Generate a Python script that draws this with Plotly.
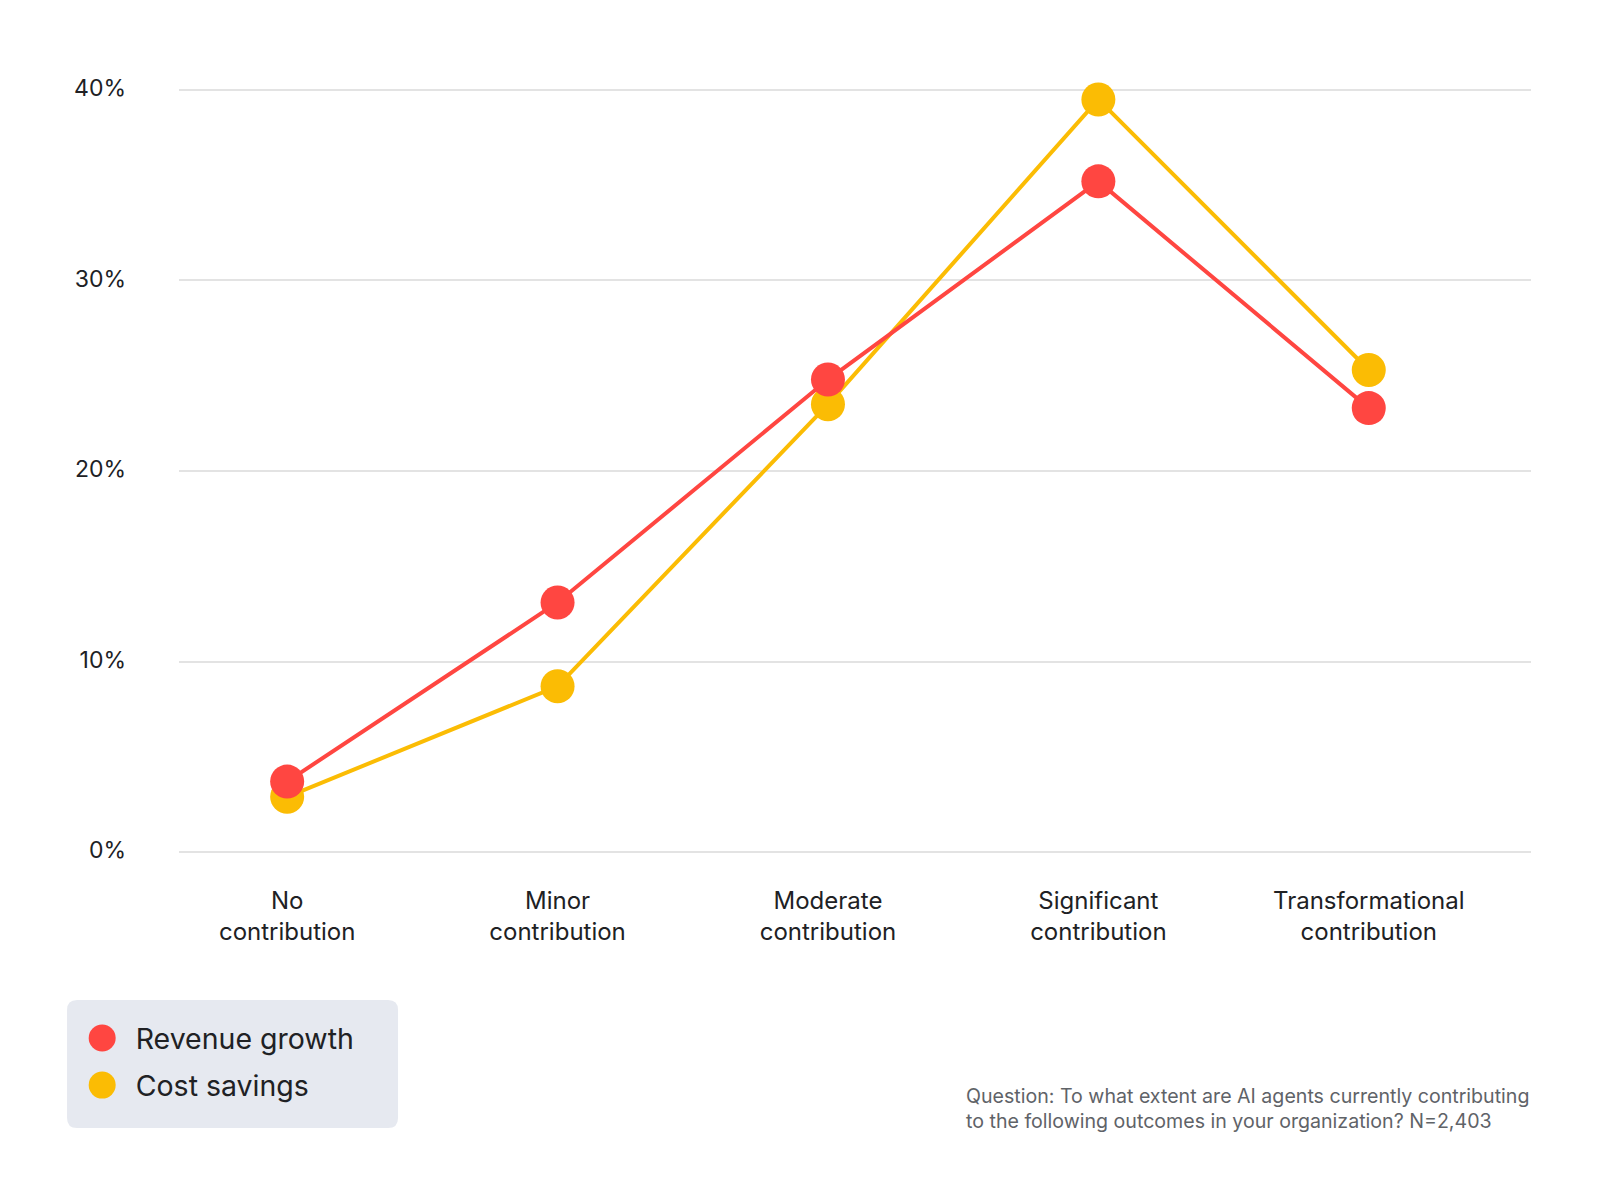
import plotly.graph_objects as go

categories = ["No<br>contribution", "Minor<br>contribution", "Moderate<br>contribution",
              "Significant<br>contribution", "Transformational<br>contribution"]
revenue_growth = [3.7, 13.1, 24.8, 35.2, 23.3]
cost_savings = [2.9, 8.7, 23.5, 39.5, 25.3]
y_ticks = [0, 10, 20, 30, 40]
y_tick_labels = ["0%", "10%", "20%", "30%", "40%"]
series_names = ["Revenue growth", "Cost savings"]
footnote = ("Question: To what extent are AI agents currently contributing<br>"
            "to the following outcomes in your organization? N=2,403")

RED = "#FF4641"
YELLOW = "#FBBC04"
FONT = "Inter, Open Sans, sans-serif"
TEXT = "#202124"

fig = go.Figure()

# data traces (yellow below red)
fig.add_trace(go.Scatter(x=categories, y=cost_savings, mode="lines+markers",
                         name=series_names[1], showlegend=False, cliponaxis=False,
                         line=dict(color=YELLOW, width=4),
                         marker=dict(color=YELLOW, size=34)))
fig.add_trace(go.Scatter(x=categories, y=revenue_growth, mode="lines+markers",
                         name=series_names[0], showlegend=False, cliponaxis=False,
                         line=dict(color=RED, width=4),
                         marker=dict(color=RED, size=34)))
# legend entries (markers only)
fig.add_trace(go.Scatter(x=[None], y=[None], mode="markers", name=series_names[0],
                         legendgroup="a", legendrank=1, marker=dict(color=RED, size=16)))
fig.add_trace(go.Scatter(x=[None], y=[None], mode="markers", name=series_names[1],
                         legendgroup="b", legendrank=2, marker=dict(color=YELLOW, size=16)))

fig.update_layout(
    width=1600, height=1200, autosize=False,
    margin=dict(l=179, r=69, t=88, b=346),
    paper_bgcolor="white", plot_bgcolor="white",
    font=dict(family=FONT, color=TEXT),
    xaxis=dict(type="category", range=[-0.40, 4.60], showgrid=False, zeroline=False,
               showline=False, ticks="outside", ticklen=25, tickcolor="rgba(0,0,0,0)",
               tickfont=dict(size=24, color=TEXT, family=FONT)),
    yaxis=dict(range=[-0.1, 40.1], tickvals=y_ticks, ticktext=y_tick_labels,
               showgrid=True, gridcolor="#E3E3E3", gridwidth=2,
               zeroline=True, zerolinecolor="#E3E3E3", zerolinewidth=2,
               showline=False, ticks="", ticklabelstandoff=52, ticklabelshift=-2,
               tickfont=dict(size=23, color=TEXT, family=FONT)),
    legend=dict(x=-0.0816, y=-0.2076, xanchor="left", yanchor="top",
                bgcolor="rgba(0,0,0,0)", font=dict(size=28.5, color=TEXT, family=FONT),
                tracegroupgap=7, orientation="v", itemwidth=57),
    showlegend=True,
    shapes=[dict(type="path", xref="paper", yref="paper",
                 xsizemode="pixel", ysizemode="pixel",
                 xanchor=0.0396, yanchor=-0.2742, layer="below",
                 path=("M -155.5,-64 L 155.5,-64 Q 165.5,-64 165.5,-54 L 165.5,54 "
                       "Q 165.5,64 155.5,64 L -155.5,64 Q -165.5,64 -165.5,54 "
                       "L -165.5,-54 Q -165.5,-64 -155.5,-64 Z"),
                 fillcolor="#E6E9F0", line=dict(width=0))],
    annotations=[dict(text=footnote, xref="paper", yref="paper", x=1.0, y=-0.3316,
                      xanchor="right", yanchor="middle", align="left", showarrow=False,
                      font=dict(size=19.6, color="#5F6368", family=FONT))],
)

post = """
var gd = document.getElementById('{plot_id}');
function fixLegend(){
  gd.querySelectorAll('.legendpoints path.scatterpts').forEach(function(p){
    p.setAttribute('d','M13.5,0A13.5,13.5 0 1,1 0,-13.5A13.5,13.5 0 0,1 13.5,0Z');
  });
}
fixLegend();
if (gd.on) { gd.on('plotly_afterplot', fixLegend); }
setTimeout(fixLegend, 50);
"""

fig.write_html("out.html", post_script=post)
